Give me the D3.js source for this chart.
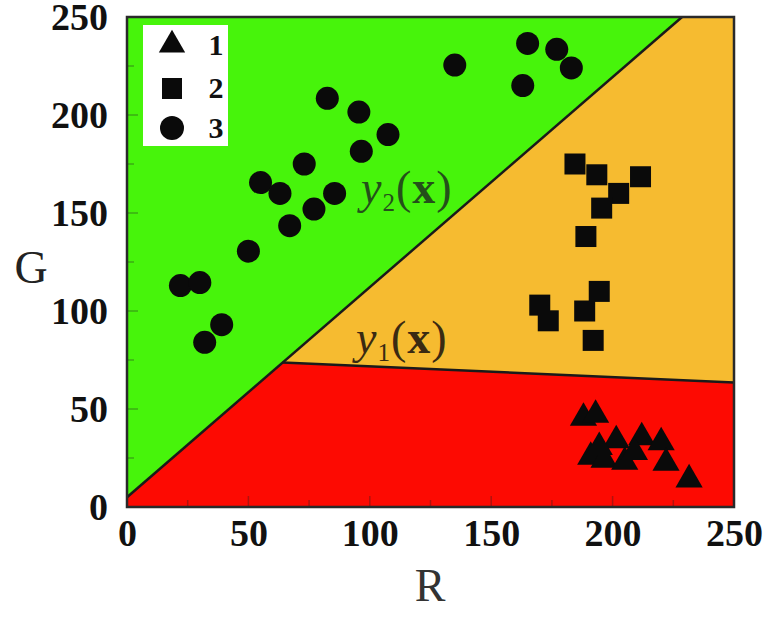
<!DOCTYPE html>
<meta charset="utf-8">
<head>
<style>
body { margin: 0; background: #fff; }
svg { display: block; }
.tick text { font-family: "Liberation Serif", serif; font-weight: bold; }
</style>
</head>
<body>
<svg></svg>
<script src="https://d3js.org/d3.v7.min.js"></script>
<script>
// class 1 (triangles), class 2 (squares), class 3 (circles): [R, G]
var class1 = [
  [188, 45.5], [193, 47], [201.5, 34], [212, 35.5], [220, 33],
  [191, 25.5], [196.5, 24], [205, 23], [222, 22.5], [231.5, 14],
  [194.5, 30.5], [209, 28]
];
var class2 = [
  [184.5, 175], [193.5, 169.5], [211.5, 168.5], [202.5, 160], [195.5, 152.5],
  [189, 138], [194.5, 110], [188.5, 100], [192, 85], [170, 103], [173.5, 95]
];
var class3 = [
  [135, 225.5], [82.5, 208.5], [95.5, 201.5], [107.5, 190], [96.5, 181.5],
  [73, 175], [55, 165.5], [63, 160], [85.5, 160], [77, 152], [67, 143.5],
  [50, 130.5], [22, 113], [30, 114.5], [39, 93], [32, 84],
  [165, 236.5], [177, 233.5], [183, 224], [163, 215]
];

// decision boundaries, end points
var y2Line = [[0, 5], [228.6, 250]];
var y1Line = [[64.1, 73.7], [250, 63.5]];

var xTicks = [0, 50, 100, 150, 200, 250];
var yTicks = [0, 50, 100, 150, 200, 250];
var legendLabels = ["1", "2", "3"];

var pLeft = 127, pRight = 734, pTop = 17, pBottom = 507;

var svg = d3.select('svg').attr('width', 768).attr('height', 621);

var x = d3.scaleLinear().domain([0, 250]).range([pLeft, pRight]);
var y = d3.scaleLinear().domain([0, 250]).range([pBottom, pTop]);

var line = d3.line().x(d => x(d[0])).y(d => y(d[1]));

// regions
var green = [[0, y2Line[0][1]], y2Line[1], [0, 250]];
var orange = [y1Line[0], y2Line[1], [250, 250], y1Line[1]];
var red = [[0, 0], [0, y2Line[0][1]], y1Line[0], y1Line[1], [250, 0]];

svg.append('path').attr('d', line(red) + 'Z').attr('fill', '#fd0a02');
svg.append('path').attr('d', line(green) + 'Z').attr('fill', '#47f40b');
svg.append('path').attr('d', line(orange) + 'Z').attr('fill', '#f6bb30');

svg.append('path').attr('d', line([y2Line[0], y2Line[1]]))
  .attr('fill', 'none').attr('stroke', '#1a1a1a').attr('stroke-width', 2.5);
svg.append('path').attr('d', line(y1Line))
  .attr('fill', 'none').attr('stroke', '#1a1a1a').attr('stroke-width', 2.5);

// inner ticks
var minor = d3.range(0, 251, 25);
var tg = svg.append('g').attr('stroke', '#222').attr('stroke-opacity', 0.35).attr('stroke-width', 1.5);
minor.forEach(function (v) {
  var len = v % 50 === 0 ? 11 : 7;
  tg.append('line').attr('x1', x(v)).attr('x2', x(v)).attr('y1', pBottom).attr('y2', pBottom - len);
  tg.append('line').attr('x1', pLeft).attr('x2', pLeft + len).attr('y1', y(v)).attr('y2', y(v));
});

// frame
svg.append('rect').attr('x', pLeft).attr('y', pTop)
  .attr('width', pRight - pLeft).attr('height', pBottom - pTop)
  .attr('fill', 'none').attr('stroke', '#2a2a2a').attr('stroke-width', 2.5);

// axes
var xAxis = svg.append('g').attr('transform', 'translate(0,' + pBottom + ')')
  .call(d3.axisBottom(x).tickValues(xTicks).tickSize(0).tickPadding(12));
var yAxis = svg.append('g').attr('transform', 'translate(' + pLeft + ',0)')
  .call(d3.axisLeft(y).tickValues(yTicks).tickSize(0).tickPadding(19));
[xAxis, yAxis].forEach(function (a) {
  a.select('.domain').remove();
  a.selectAll('text').attr('font-size', 38).attr('fill', '#111');
});

svg.append('text').attr('x', 31).attr('y', 283).attr('text-anchor', 'middle')
  .attr('font-family', 'Liberation Serif').attr('font-size', 46).attr('fill', '#222').text('G');
svg.append('text').attr('x', 430).attr('y', 601).attr('text-anchor', 'middle')
  .attr('font-family', 'Liberation Serif').attr('font-size', 46).attr('fill', '#333').text('R');

// boundary labels
function fnLabel(px, py, sub, color) {
  var t = svg.append('text').attr('x', px).attr('y', py)
    .attr('font-family', 'Liberation Serif').attr('font-size', 46)
    .attr('letter-spacing', 1).attr('fill', color);
  t.append('tspan').attr('font-style', 'italic').text('y');
  t.append('tspan').attr('font-size', 25).attr('dy', 8).text(sub);
  t.append('tspan').attr('dy', -8).text('(');
  t.append('tspan').attr('font-weight', 'bold').text('x');
  t.append('tspan').text(')');
}
fnLabel(361, 203, '2', '#24501a');
fnLabel(356, 353, '1', '#3a2a12');

// points
var pts = svg.append('g').attr('fill', '#0a0a0a');
pts.selectAll('circle').data(class3).enter().append('circle')
  .attr('cx', d => x(d[0])).attr('cy', d => y(d[1])).attr('r', 11.5);
pts.selectAll('rect').data(class2).enter().append('rect')
  .attr('x', d => x(d[0]) - 10.5).attr('y', d => y(d[1]) - 10.5)
  .attr('width', 21).attr('height', 21);
var tri = d3.symbol().type(d3.symbolTriangle).size(320);
pts.selectAll('path').data(class1).enter().append('path')
  .attr('transform', d => 'translate(' + x(d[0]) + ',' + y(d[1]) + ')')
  .attr('d', tri);

// legend
var lg = svg.append('g');
lg.append('rect').attr('x', 143).attr('y', 25).attr('width', 85).attr('height', 121).attr('fill', '#fff');
var legendY = [45, 88, 128];
lg.append('path').attr('transform', 'translate(172,' + legendY[0] + ')').attr('d', d3.symbol().type(d3.symbolTriangle).size(300)).attr('fill', '#0a0a0a');
lg.append('rect').attr('x', 162).attr('y', legendY[1] - 10).attr('width', 20).attr('height', 21).attr('fill', '#0a0a0a');
lg.append('circle').attr('cx', 172).attr('cy', legendY[2]).attr('r', 12).attr('fill', '#0a0a0a');
lg.selectAll('text.lab').data(legendLabels).enter().append('text')
  .attr('x', 216).attr('y', (d, i) => legendY[i] + 10).attr('text-anchor', 'middle')
  .attr('font-family', 'Liberation Serif').attr('font-weight', 'bold').attr('font-size', 30)
  .attr('fill', '#111').text(d => d);
</script>
</body>
</html>
